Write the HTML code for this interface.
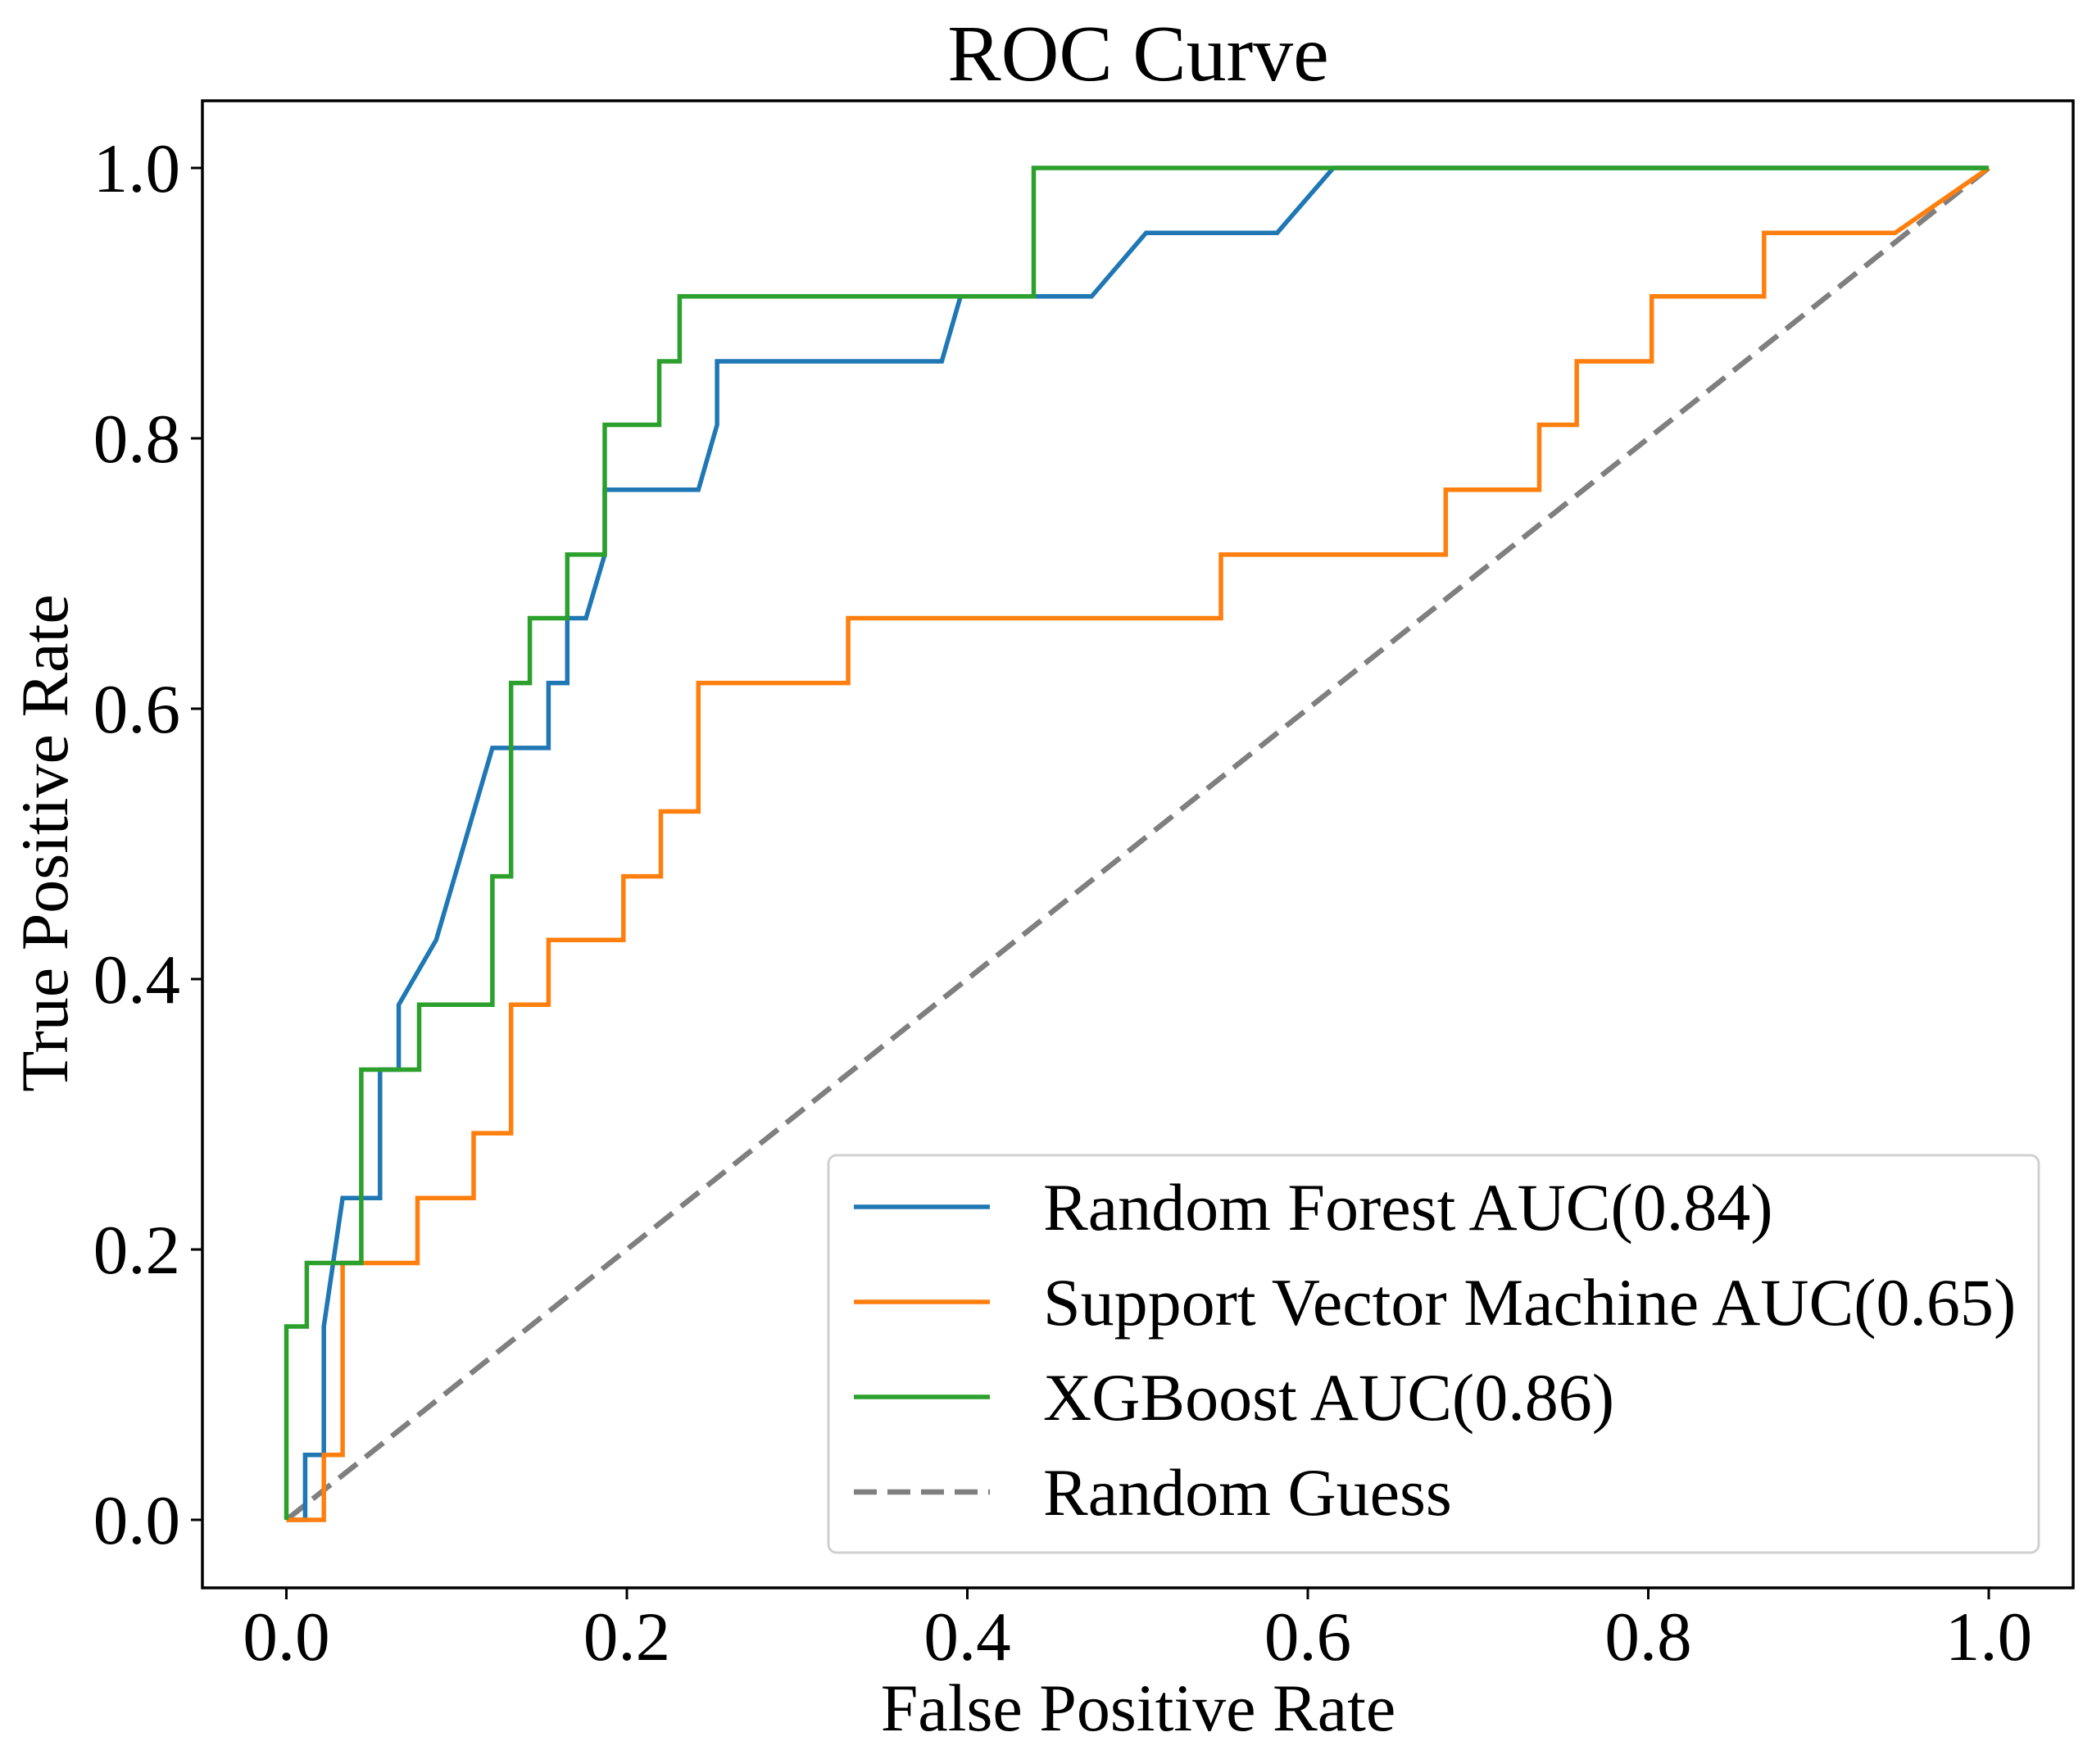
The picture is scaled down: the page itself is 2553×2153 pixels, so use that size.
<!DOCTYPE html>
<html><head><meta charset="utf-8"><style>
html,body{margin:0;padding:0;background:#fff;}
svg{display:block;font-family:"Liberation Serif",serif;}
</style></head><body>
<svg id="chart" width="2553" height="2153" viewBox="0 0 2553 2153" xmlns="http://www.w3.org/2000/svg"></svg>
<script>
const xTicks = [0, 0.2, 0.4, 0.6, 0.8, 1.0];
const yTicks = [0, 0.2, 0.4, 0.6, 0.8, 1.0];
const tickLabels = ["0.0","0.2","0.4","0.6","0.8","1.0"];
const rfFpr = [0,0.011,0.011,0.022,0.022,0.033,0.055,0.055,0.066,0.066,0.088,0.121,0.154,0.154,0.165,0.165,0.176,0.187,0.187,0.242,0.253,0.253,0.385,0.396,0.473,0.505,0.582,0.615,1];
const rfTpr = [0,0,0.048,0.048,0.143,0.238,0.238,0.333,0.333,0.381,0.429,0.571,0.571,0.619,0.619,0.667,0.667,0.714,0.762,0.762,0.81,0.857,0.857,0.905,0.905,0.952,0.952,1,1];
const svmFpr = [0,0.022,0.022,0.033,0.033,0.077,0.077,0.11,0.11,0.132,0.132,0.154,0.154,0.198,0.198,0.22,0.22,0.242,0.242,0.33,0.33,0.549,0.549,0.681,0.681,0.736,0.736,0.758,0.758,0.802,0.802,0.868,0.868,0.945,1];
const svmTpr = [0,0,0.048,0.048,0.19,0.19,0.238,0.238,0.286,0.286,0.381,0.381,0.429,0.429,0.476,0.476,0.524,0.524,0.619,0.619,0.667,0.667,0.714,0.714,0.762,0.762,0.81,0.81,0.857,0.857,0.905,0.905,0.952,0.952,1];
const xgbFpr = [0,0,0.012,0.012,0.044,0.044,0.078,0.078,0.121,0.121,0.132,0.132,0.143,0.143,0.165,0.165,0.187,0.187,0.219,0.219,0.231,0.231,0.439,0.439,1];
const xgbTpr = [0,0.143,0.143,0.19,0.19,0.333,0.333,0.381,0.381,0.476,0.476,0.619,0.619,0.667,0.667,0.714,0.714,0.81,0.81,0.857,0.857,0.905,0.905,1,1];
const guessFpr = [0,1];
const guessTpr = [0,1];
const legendLabels = ["Random Forest AUC(0.84)","Support Vector Machine AUC(0.65)","XGBoost AUC(0.86)","Random Guess"];

const NS="http://www.w3.org/2000/svg";
const svg=document.getElementById('chart');
const X0=349.5,X1=2427,Y0=1855,Y1=205;
const sx=v=>X0+(X1-X0)*v;
const sy=v=>Y0+(Y1-Y0)*v;
function mk(tag,attrs,parent){const e=document.createElementNS(NS,tag);for(const k in attrs)e.setAttribute(k,attrs[k]);(parent||svg).appendChild(e);return e;}

const title=mk('text',{x:1389,y:98,'font-size':98,'text-anchor':'middle',fill:'#000'});
title.textContent='ROC Curve';



xTicks.forEach((v,i)=>{
  const t=mk('line',{x1:sx(v),x2:sx(v),y1:1938,y2:1952,stroke:'#000','stroke-width':3});
  
  
  const l=mk('text',{x:sx(v),y:2026,'font-size':85,'text-anchor':'middle'});
  l.textContent=tickLabels[i];
  
  
});
yTicks.forEach((v,i)=>{
  const t=mk('line',{x1:233,x2:247,y1:sy(v),y2:sy(v),stroke:'#000','stroke-width':3});
  
  
  const l=mk('text',{x:220,y:sy(v)+29,'font-size':85,'text-anchor':'end'});
  l.textContent=tickLabels[i];
  
  
});
const xl=mk('text',{x:1389,y:2112,'font-size':82,'text-anchor':'middle'});
xl.textContent='False Positive Rate';


const yl=mk('text',{x:0,y:0,'font-size':82,'text-anchor':'middle',transform:'translate(82,1029) rotate(-90)'});
yl.textContent='True Positive Rate';



function series(fx,fy,color,name,dash){
  const pts=fx.map((v,i)=>sx(v).toFixed(1)+','+sy(fy[i]).toFixed(1)).join(' ');
  const a={points:pts,fill:'none',stroke:color,'stroke-width':dash?6.5:5.5,'stroke-linejoin':'miter'};
  if(dash)a['stroke-dasharray']='28,13';
  const p=mk('polyline',a);
  
  
}
series(guessFpr,guessTpr,'#7f7f7f','random-guess-line',true);
series(rfFpr,rfTpr,'#1f77b4','random-forest-line');
series(svmFpr,svmTpr,'#ff7f0e','svm-line');
series(xgbFpr,xgbTpr,'#2ca02c','xgboost-line');

const frame=mk('rect',{x:247,y:123,width:2283,height:1815,fill:'none',stroke:'#000','stroke-width':3.5});



const lg=mk('g',{});


mk('rect',{x:1011,y:1410,width:1477,height:485,rx:10,fill:'#fff','fill-opacity':0.8,stroke:'#d0d0d0','stroke-width':3},lg);
const lcolors=['#1f77b4','#ff7f0e','#2ca02c','#7f7f7f'];
const lnames=['legend-random-forest','legend-svm','legend-xgboost','legend-random-guess'];
legendLabels.forEach((s,i)=>{
  const y=1473+i*116;
  const g=mk('g',{},lg);
  
  
  const a={x1:1042,x2:1208,y1:y,y2:y,stroke:lcolors[i],'stroke-width':i==3?6.5:5.5};
  if(i==3)a['stroke-dasharray']='28,13';
  mk('line',a,g);
  const t=mk('text',{x:1273,y:y+28,'font-size':82},g);
  t.textContent=s;
});
</script>
</body></html>
